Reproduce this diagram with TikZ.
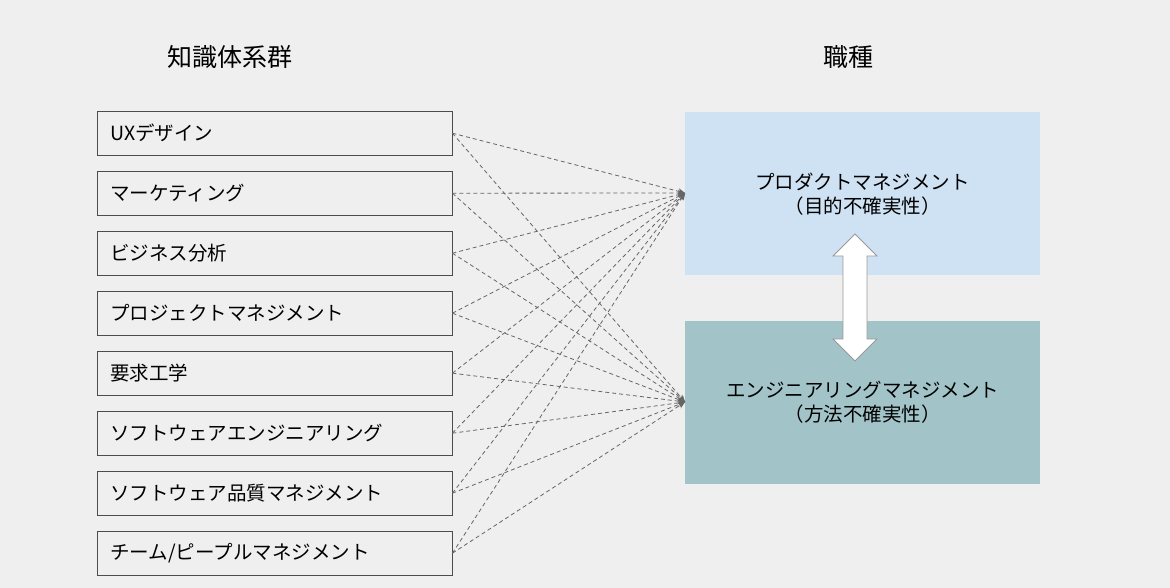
\documentclass[tikz,border=0pt]{standalone}
\usepackage{fontspec}
\setmainfont{Noto Sans CJK JP}
\usetikzlibrary{arrows.meta}
\definecolor{bg}{HTML}{EFEFEF}
\definecolor{pmc}{HTML}{CFE2F3}
\definecolor{emc}{HTML}{A2C4C9}
\begin{document}
\begin{tikzpicture}[x=1pt,y=-1pt,
  kb/.style={draw=black!70,fill=bg,minimum width=355pt,minimum height=44pt,anchor=north west,inner xsep=13pt,text width=329pt,align=left,font=\fontsize{19.5}{22}\selectfont},
  role/.style={fill=#1,minimum width=355pt,minimum height=163pt,anchor=north west,align=center,font=\fontsize{19.5}{24}\selectfont},
  link/.style={draw=black!60,line width=0.8pt,dash pattern=on 4pt off 3pt,-{Stealth[length=7pt,width=6pt]}}]
\fill[bg] (0,0) rectangle (1170,588);
\useasboundingbox (0,0) rectangle (1170,588);
\node[font=\fontsize{25}{28}\selectfont] (t1) at (230,57) {知識体系群};
\node[font=\fontsize{25}{28}\selectfont] (t2) at (848,57) {職種};
\node[role=pmc] (pm) at (685,112) {プロダクトマネジメント\\（目的不確実性）};
\node[role=emc] (em) at (685,321) {エンジニアリングマネジメント\\（方法不確実性）};
\coordinate (pa) at (685,193);
\coordinate (ea) at (685,402);
\foreach \i/\t in {1/{UXデザイン},2/{マーケティング},3/{ビジネス分析},4/{プロジェクトマネジメント},5/{要求工学},6/{ソフトウェアエンジニアリング},7/{ソフトウェア品質マネジメント},8/{チーム/ピープルマネジメント}}{
  \node[kb] (k\i) at (97,{111+60*(\i-1)}) {\t};
  \draw[link] (k\i.east) -- (pa);
  \draw[link] (k\i.east) -- (ea);
}
\draw[draw=black!40,fill=white,line width=0.8pt]
 (855,234) -- (877,256) -- (867,256) -- (867,339) -- (877,339) -- (855,361)
 -- (833,339) -- (843,339) -- (843,256) -- (833,256) -- cycle;
\end{tikzpicture}
\end{document}
